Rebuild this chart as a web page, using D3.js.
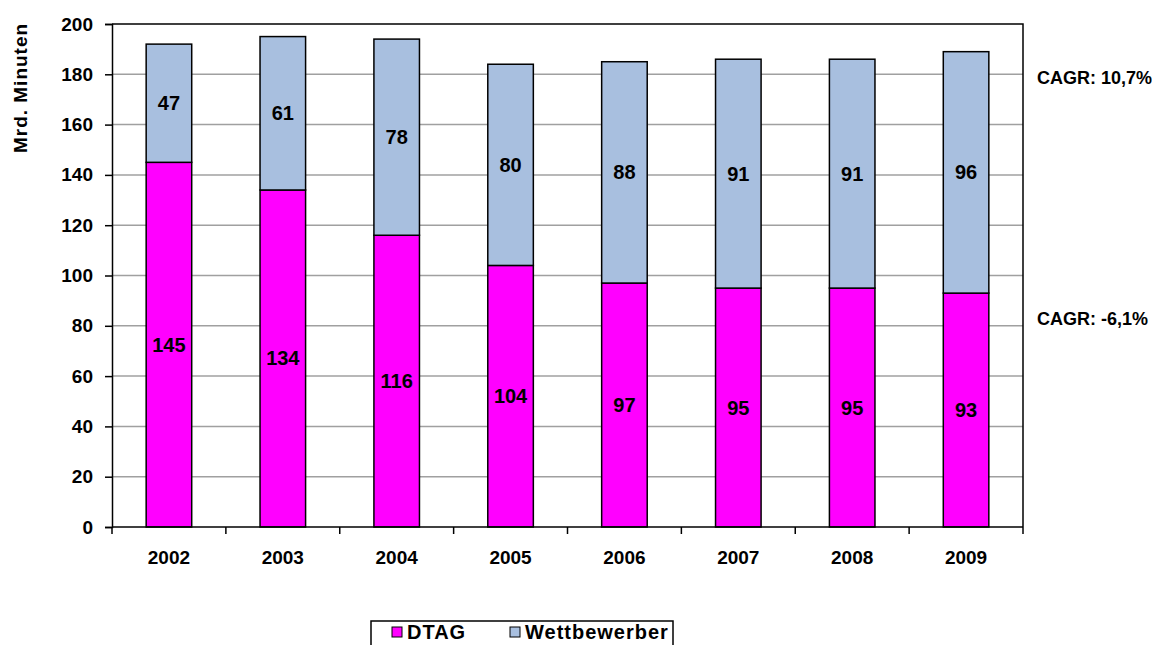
<!DOCTYPE html>
<meta charset="utf-8">
<style>
body { margin: 0; background: #fff; }
text { font-family: "Liberation Sans", Arial, sans-serif; font-weight: bold; fill: #000; }
</style>
<body>
<script src="https://d3js.org/d3.v7.min.js"></script>
<script>

// data
var years = ["2002", "2003", "2004", "2005", "2006", "2007", "2008", "2009"];
var dtag = [145, 134, 116, 104, 97, 95, 95, 93];
var wettbewerber = [47, 61, 78, 80, 88, 91, 91, 96];
var yTicks = [0, 20, 40, 60, 80, 100, 120, 140, 160, 180, 200];
var cagrLabels = ["CAGR: 10,7%", "CAGR: -6,1%"];
var cagrAt = [178.5, 83];   // value level where each note sits
var seriesNames = ["DTAG", "Wettbewerber"];
var seriesColors = ["#ff00ff", "#a8bfdf"];

var width = 1152,
    height = 645;
var margin = {top: 24, right: 129, bottom: 118, left: 112};

var svg = d3.select("body").append("svg")
    .attr("width", width)
    .attr("height", height);

var x = d3.scaleBand()
    .domain(years)
    .range([margin.left, width - margin.right])
    .paddingInner(0.6)
    .paddingOuter(0.3);

var y = d3.scaleLinear()
    .domain([0, 200])
    .range([height - margin.bottom, margin.top]);

// gridlines
svg.append("g")
  .selectAll("line")
  .data(yTicks.slice(1, -1))
  .enter().append("line")
    .attr("x1", margin.left)
    .attr("x2", width - margin.right)
    .attr("y1", function(d) { return y(d); })
    .attr("y2", function(d) { return y(d); })
    .style("stroke", "#a0a0a0")
    .style("stroke-width", 1.5);

// plot frame top + right
svg.append("path")
    .attr("d", "M" + margin.left + "," + y(200) + "H" + (width - margin.right) + "V" + y(0))
    .style("fill", "none")
    .style("stroke", "#000")
    .style("stroke-width", 1.5);

var rows = years.map(function(yr, i) {
  return {year: yr, dtag: dtag[i], wett: wettbewerber[i]};
});

var bars = svg.selectAll("g.bar")
    .data(rows)
    .enter().append("g")
    .attr("class", "bar");

bars.append("rect")
    .attr("x", function(d) { return x(d.year); })
    .attr("width", x.bandwidth())
    .attr("y", function(d) { return y(d.dtag); })
    .attr("height", function(d) { return y(0) - y(d.dtag); })
    .style("fill", seriesColors[0])
    .style("stroke", "#000")
    .style("stroke-width", 1.5);

bars.append("rect")
    .attr("x", function(d) { return x(d.year); })
    .attr("width", x.bandwidth())
    .attr("y", function(d) { return y(d.dtag + d.wett); })
    .attr("height", function(d) { return y(d.dtag) - y(d.dtag + d.wett); })
    .style("fill", seriesColors[1])
    .style("stroke", "#000")
    .style("stroke-width", 1.5);

bars.append("text")
    .attr("x", function(d) { return x(d.year) + x.bandwidth() / 2; })
    .attr("y", function(d) { return y(d.dtag / 2); })
    .attr("dy", "0.35em")
    .attr("text-anchor", "middle")
    .style("font-size", "20px")
    .text(function(d) { return d.dtag; });

bars.append("text")
    .attr("x", function(d) { return x(d.year) + x.bandwidth() / 2; })
    .attr("y", function(d) { return y(d.dtag + d.wett / 2); })
    .attr("dy", "0.35em")
    .attr("text-anchor", "middle")
    .style("font-size", "20px")
    .text(function(d) { return d.wett; });

// y axis
var yAxis = svg.append("g")
    .attr("transform", "translate(" + margin.left + ",0)")
    .call(d3.axisLeft(y).tickValues(yTicks).tickSize(7).tickPadding(12));
yAxis.select(".domain").style("stroke", "#000").style("stroke-width", 1.5);
yAxis.selectAll(".tick line").style("stroke", "#000").style("stroke-width", 1.5);
yAxis.selectAll("text").style("font-size", "19px").style("font-family", "Liberation Sans, Arial, sans-serif").style("font-weight", "bold");

// x axis, ticks between categories
var xg = svg.append("g")
    .attr("transform", "translate(0," + y(0) + ")");
xg.append("line")
    .attr("x1", margin.left).attr("x2", width - margin.right)
    .style("stroke", "#000").style("stroke-width", 1.5);
var step = x.step();
xg.selectAll("line.tk")
    .data(d3.range(years.length + 1))
    .enter().append("line")
    .attr("class", "tk")
    .attr("x1", function(i) { return margin.left + i * step; })
    .attr("x2", function(i) { return margin.left + i * step; })
    .attr("y1", 0).attr("y2", 7)
    .style("stroke", "#000").style("stroke-width", 1.5);
xg.selectAll("text")
    .data(years)
    .enter().append("text")
    .attr("x", function(d) { return x(d) + x.bandwidth() / 2; })
    .attr("y", 37)
    .attr("text-anchor", "middle")
    .style("font-size", "19px")
    .text(function(d) { return d; });

// axis title
svg.append("text")
    .attr("transform", "translate(27,88) rotate(-90)")
    .attr("text-anchor", "middle")
    .style("font-size", "19px")
    .style("letter-spacing", "1px")
    .text("Mrd. Minuten");

// CAGR notes
svg.selectAll("text.cagr")
    .data(cagrLabels)
    .enter().append("text")
    .attr("class", "cagr")
    .attr("x", width - margin.right + 14)
    .attr("y", function(d, i) { return y(cagrAt[i]); })
    .attr("dy", "0.35em")
    .style("font-size", "18px")
    .text(function(d) { return d; });

// legend
var legend = svg.append("g").attr("transform", "translate(371,621)");
legend.append("rect")
    .attr("width", 302).attr("height", 30)
    .style("fill", "#fff").style("stroke", "#000").style("stroke-width", 1.5);
var lx = [21, 139];
var items = legend.selectAll("g.item")
    .data(seriesNames)
    .enter().append("g")
    .attr("class", "item")
    .attr("transform", function(d, i) { return "translate(" + lx[i] + ",0)"; });
items.append("rect")
    .attr("y", 6).attr("width", 10).attr("height", 10)
    .style("fill", function(d, i) { return seriesColors[i]; })
    .style("stroke", "#000").style("stroke-width", 1);
items.append("text")
    .attr("x", 15).attr("y", 11)
    .attr("dy", "0.35em")
    .style("font-size", "20px")
    .style("letter-spacing", "1px")
    .text(function(d) { return d; });

</script>
</body>
